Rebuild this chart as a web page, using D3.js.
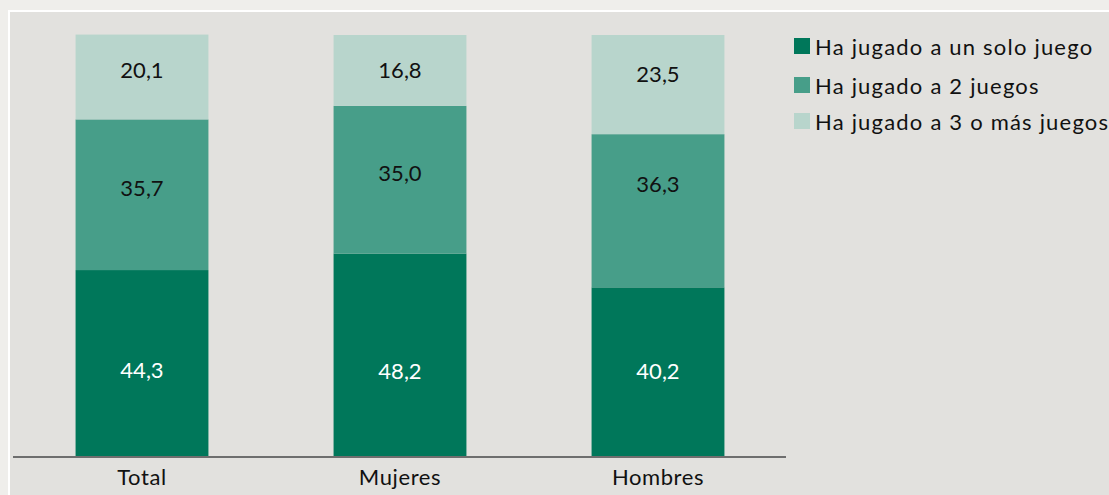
<!DOCTYPE html>
<html><head><meta charset="utf-8">
<script src="https://cdn.jsdelivr.net/npm/d3@7"></script>
<style>
html,body{margin:0;padding:0;background:#efeeeb;overflow:hidden;}
svg{display:block;}
text{font-family:Lato,"Open Sans",sans-serif;font-weight:400;}
</style></head>
<body>
<script>
const categories = ["Total", "Mujeres", "Hombres"];
const seriesNames = ["Ha jugado a un solo juego", "Ha jugado a 2 juegos", "Ha jugado a 3 o más juegos"];
const oneGame = [44.3, 48.2, 40.2];
const twoGames = [35.7, 35.0, 36.3];
const threePlus = [20.1, 16.8, 23.5];

const colors = ["#00775a", "#479e89", "#b8d5cc"];
const labelColors = ["#ffffff", "#111111", "#111111"];
// small pixel nudges for label placement (per series, per category)
const labelNudge = [[7, 16, -1], [-6, -6, -26], [-7, 0, -10]];

const W = 1109, H = 495;
const svg = d3.select("body").append("svg").attr("width", W).attr("height", H);

svg.append("rect").attr("x", 8).attr("y", 10).attr("width", W).attr("height", H).attr("fill", "#ffffff");
svg.append("rect").attr("x", 10).attr("y", 12).attr("width", W).attr("height", H).attr("fill", "#e2e1de");

const values = [oneGame, twoGames, threePlus];
const rows = categories.map((c, i) => {
  const r = {cat: c};
  seriesNames.forEach((s, k) => r[s] = values[k][i]);
  return r;
});
const stacked = d3.stack().keys(seriesNames)(rows);

const x = d3.scaleBand().domain(categories).range([13, 787]).paddingInner(0.485).paddingOuter(0.2425);
const y = d3.scaleLinear().domain([0, 100]).range([457, 35]);

const g = svg.append("g");
stacked.forEach((layer, k) => {
  g.selectAll(null).data(layer).enter().append("rect")
    .attr("x", d => x(d.data.cat))
    .attr("y", d => y(d[1]))
    .attr("width", x.bandwidth())
    .attr("height", d => y(d[0]) - y(d[1]))
    .attr("fill", colors[k]);
});
stacked.forEach((layer, k) => {
  g.selectAll(null).data(layer).enter().append("text")
    .attr("x", d => x(d.data.cat) + x.bandwidth() / 2)
    .attr("y", (d, i) => (y(d[0]) + y(d[1])) / 2 + labelNudge[k][i])
    .attr("dy", "0.35em")
    .attr("text-anchor", "middle")
    .attr("font-size", 22)
    .attr("fill", labelColors[k])
    .text(d => d3.format(".1f")(d[1] - d[0]).replace(".", ","));
});

// baseline axis
const xAxis = d3.axisBottom(x).tickSize(0).tickPadding(12);
const ax = svg.append("g").attr("transform", "translate(0,457)").call(xAxis);
ax.select(".domain").attr("stroke", "#6e6e6e").attr("stroke-width", 2).attr("d", "M13,0H786");
ax.selectAll("text").attr("font-size", 22).attr("fill", "#111").attr("font-family", "Lato, sans-serif").attr("font-weight", 400).attr("letter-spacing", "0.6px");

// legend
const leg = svg.append("g");
const legY = [38, 77, 113];
seriesNames.forEach((s, k) => {
  leg.append("rect").attr("x", 794).attr("y", legY[k]).attr("width", 16).attr("height", 16).attr("fill", colors[k]);
  leg.append("text").attr("x", 815).attr("y", legY[k] + 16.5).attr("font-size", 22)
    .attr("letter-spacing", "1.2px").attr("fill", "#111").text(s);
});
</script>
</body></html>
